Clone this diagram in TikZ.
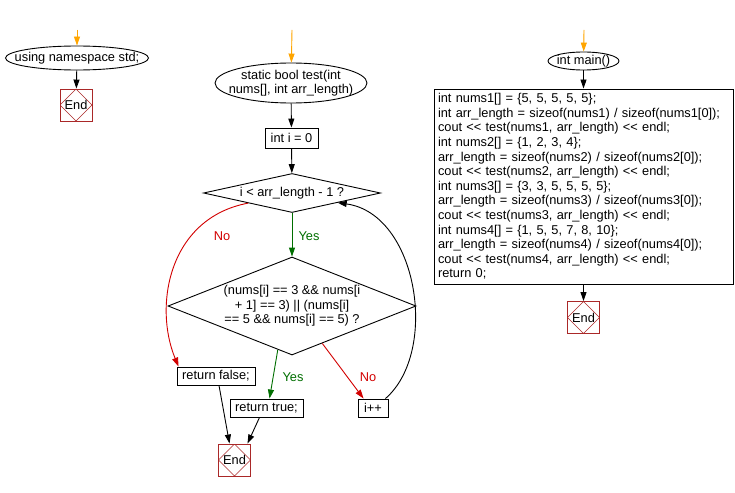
\documentclass[tikz,border=0pt]{standalone}
\usepackage{fontspec}
\setmainfont{Liberation Sans}
\usetikzlibrary{shapes.geometric,arrows.meta}
\definecolor{startorange}{RGB}{255,165,0}
\definecolor{yesgreen}{RGB}{0,110,0}
\definecolor{nored}{RGB}{210,0,0}
\definecolor{endred}{RGB}{170,40,40}
\newcommand{\shl}{<\kern0pt<}

\begin{document}
\begin{tikzpicture}[x=1pt,y=-1pt,line width=0.9pt]
  \tikzset{every node/.style={font=\fontsize{12.8}{14.6}\selectfont,inner sep=0pt}}
  \tikzset{flow/.style={-{Triangle[length=9pt,width=6pt]}}}
  \tikzset{entry/.style={flow,draw=startorange,fill=startorange}}
  \tikzset{term/.style={draw,ellipse,inner xsep=-15pt,align=center}}
  \tikzset{proc/.style={draw,rectangle,minimum height=18pt}}
  \tikzset{test/.style={draw,diamond,align=center}}
  \tikzset{stopbox/.style={draw=endred,minimum size=32pt,
      path picture={\draw[endred,line width=0.6pt] (path picture bounding box.north)
        -- (path picture bounding box.east) -- (path picture bounding box.south)
        -- (path picture bounding box.west) -- cycle;}}}
  \tikzset{yeslbl/.style={text=yesgreen},nolbl/.style={text=nored}}
  \useasboundingbox (0,0) rectangle (735,492);

  \coordinate (in1) at (77,30);
  \coordinate (in2) at (292,30);
  \coordinate (in3) at (584,30);

  \node[term,minimum width=143pt,minimum height=24pt] (ns) at (77,58) {using namespace std;};
  \node[stopbox] (end1) at (76,105) {End};

  \node[term,minimum width=152pt,minimum height=40pt] (fn) at (291,83) {static bool test(int\\nums[], int arr\_length)};
  \node[proc,minimum width=53pt,minimum height=20pt] (init) at (291.5,138) {int i = 0};
  \node[test,shape aspect=4.54,minimum width=177pt,minimum height=39pt] (loop) at (292,193) {i < arr\_length - 1 ?};
  \node[test,shape aspect=2.53,minimum width=248pt,minimum height=98pt] (check) at (292,306)
    {(nums[i] == 3 \&\& nums[i\\+ 1] == 3) || (nums[i]\\== 5 \&\& nums[i] == 5) ?};
  \node[proc,minimum width=78pt] (retf) at (216,376) {return false;};
  \node[proc,minimum width=73pt] (rett) at (266.5,408) {return true;};
  \node[proc,minimum width=30pt] (inc) at (373,408) {i++};
  \node[stopbox] (end2) at (234.5,460) {End};

  \node[term,minimum width=71pt,minimum height=18pt] (mn) at (583.5,61) {int main()};
  \node[draw,text width=291pt,align=left,inner xsep=4pt,minimum height=195pt] (body) at (583.5,186.5)
    {int nums1[] = \{5, 5, 5, 5, 5\};\\
     int arr\_length = sizeof(nums1) / sizeof(nums1[0]);\\
     cout \shl{} test(nums1, arr\_length) \shl{} endl;\\
     int nums2[] = \{1, 2, 3, 4\};\\
     arr\_length = sizeof(nums2) / sizeof(nums2[0]);\\
     cout \shl{} test(nums2, arr\_length) \shl{} endl;\\
     int nums3[] = \{3, 3, 5, 5, 5, 5\};\\
     arr\_length = sizeof(nums3) / sizeof(nums3[0]);\\
     cout \shl{} test(nums3, arr\_length) \shl{} endl;\\
     int nums4[] = \{1, 5, 5, 7, 8, 10\};\\
     arr\_length = sizeof(nums4) / sizeof(nums4[0]);\\
     cout \shl{} test(nums4, arr\_length) \shl{} endl;\\
     return 0;};
  \node[stopbox] (end3) at (583.5,317.5) {End};

  \node[yeslbl] (y1) at (309,236) {Yes};
  \node[nolbl] (n1) at (222,236) {No};
  \node[yeslbl] (y2) at (293,377) {Yes};
  \node[nolbl] (n2) at (368,377) {No};

  \draw[entry] (in1) -- (ns);
  \draw[entry] (in2) -- (fn);
  \draw[entry] (in3) -- (mn);
  \draw[flow] (ns) -- (end1);
  \draw[flow] (fn) -- (init);
  \draw[flow] (init) -- (loop);
  \draw[flow,yesgreen] (loop) -- (check);
  \draw[flow,nored] (loop.193) .. controls +(-80,15) and +(-25,-60) .. ([xshift=2pt]retf.north west);
  \draw[flow,yesgreen] (check.252) -- ([xshift=3pt]rett.north);
  \draw[flow,nored] (check.309) -- ([xshift=6pt]inc.north west);
  \draw[flow] ([xshift=-3pt]inc.north east) .. controls +(54,-47) and +(80,11) .. (loop.348);
  \draw[flow] ([xshift=3pt]retf.south) -- ([xshift=-5pt]end2.north);
  \draw[flow] ([xshift=-7pt]rett.south) -- ([xshift=13pt]end2.north);
  \draw[flow] (mn) -- (body);
  \draw[flow] (body) -- (end3);
\end{tikzpicture}
\end{document}
